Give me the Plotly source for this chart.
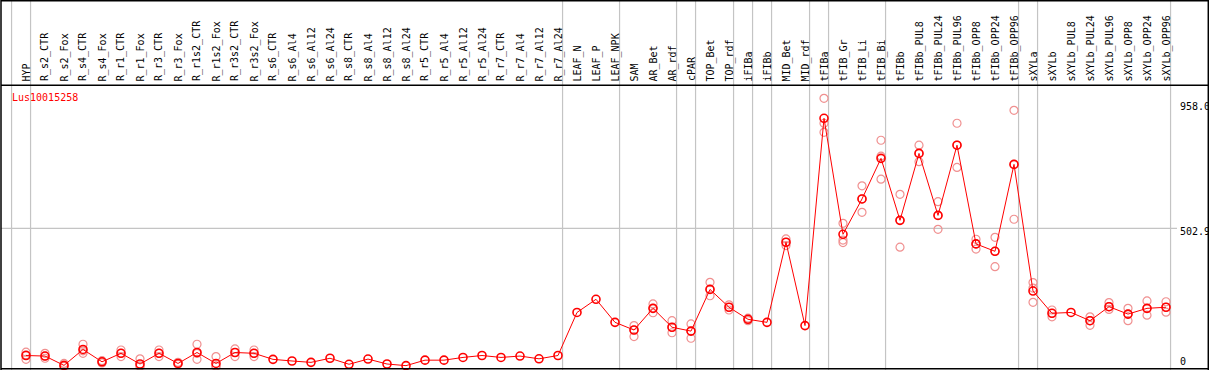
import plotly.graph_objects as go

W, H = 1209, 370

categories = [
    "HYP", "R_s2_CTR", "R_s2_Fox", "R_s4_CTR", "R_s4_Fox", "R_r1_CTR", "R_r1_Fox",
    "R_r3_CTR", "R_r3_Fox", "R_r1s2_CTR", "R_r1s2_Fox", "R_r3s2_CTR", "R_r3s2_Fox",
    "R_s6_CTR", "R_s6_Al4", "R_s6_Al12", "R_s6_Al24", "R_s8_CTR", "R_s8_Al4",
    "R_s8_Al12", "R_s8_Al24", "R_r5_CTR", "R_r5_Al4", "R_r5_Al12", "R_r5_Al24",
    "R_r7_CTR", "R_r7_Al4", "R_r7_Al12", "R_r7_Al24", "LEAF_N", "LEAF_P", "LEAF_NPK",
    "SAM", "AR_Bet", "AR_rdf", "cPAR", "TOP_Bet", "TOP_rdf", "iFIBa", "iFIBb",
    "MID_Bet", "MID_rdf", "tFIBa", "tFIB_Gr", "tFIB_Li", "tFIB_Bi", "tFIBb",
    "tFIBb_PUL8", "tFIBb_PUL24", "tFIBb_PUL96", "tFIBb_OPP8", "tFIBb_OPP24",
    "tFIBb_OPP96", "sXYLa", "sXYLb", "sXYLb_PUL8", "sXYLb_PUL24", "sXYLb_PUL96",
    "sXYLb_OPP8", "sXYLb_OPP24", "sXYLb_OPP96",
]

means = [
    39, 37, 3, 61, 16, 47, 8, 47, 10, 50, 10, 50, 47,
    25, 19, 14, 29, 7, 26, 8, 2, 22, 22, 32, 39, 32, 37, 27, 39,
    196, 244, 160, 132, 211, 142, 128, 280, 215, 171, 160, 452, 148,
    904, 481, 610, 758, 532, 776, 550, 806, 446, 419, 736,
    274, 193, 196, 166, 217, 190, 211, 215,
]

replicates = [
    [51, 41, 25], [47, 37, 29], [10, 0, 0], [80, 56, 47], [20, 16, 12],
    [59, 47, 35], [27, 0, 0], [59, 47, 35], [14, 10, 7], [80, 47, 25],
    [35, 0, 0], [63, 50, 35], [59, 47, 35],
    [], [], [], [], [], [], [], [], [], [], [], [], [], [], [], [],
    [], [], [],
    [148, 132, 108], [227, 211, 195], [166, 142, 122], [154, 128, 102],
    [306, 280, 257], [224, 215, 205], [175, 171, 166], [],
    [464, 452, 440], [],
    [977, 886, 853], [521, 460, 451], [658, 610, 561], [824, 766, 682],
    [627, 532, 434], [806, 776, 746], [600, 550, 499], [886, 806, 725],
    [463, 446, 427], [470, 419, 363], [933, 736, 536],
    [305, 285, 233], [205, 193, 180], [], [180, 166, 149], [232, 217, 207],
    [211, 190, 166], [238, 211, 186], [235, 215, 197],
]

gene_name = "Lus10015258"
tick_values = [958.0, 502.9, 0]
tick_labels = ["958.0", "502.9", "0"]
# group separators drawn after these categories (None = before first)
group_ends = [None, "HYP", "R_r7_Al24", "LEAF_NPK", "AR_rdf", "cPAR", "TOP_rdf",
              "iFIBa", "iFIBb", "MID_rdf", "tFIBa", "tFIB_Bi", "tFIBb_OPP96",
              "sXYLa", "sXYLb_OPP96"]

# ---- geometry (pixels) ----
X0_PX, STEP_PX = 26.0, 19.0
Y0_PX, PX_PER_UNIT = 366.2, 0.2742
x_range = [-X0_PX / STEP_PX, (W - X0_PX) / STEP_PX]
y_range = [(Y0_PX - H) / PX_PER_UNIT, Y0_PX / PX_PER_UNIT]


def px(xp):
    return xp / W


def py(yp):
    return 1 - yp / H


xs = list(range(len(categories)))
rep_x, rep_y = [], []
for i, reps in enumerate(replicates):
    for v in reps:
        rep_x.append(i)
        rep_y.append(v)

fig = go.Figure()
fig.add_trace(go.Scatter(
    x=rep_x, y=rep_y, mode="markers",
    marker=dict(symbol="circle-open", size=8, color="#F09090",
                line=dict(width=1.2, color="#F09090")),
    hoverinfo="skip", showlegend=False,
))
fig.add_trace(go.Scatter(
    x=xs, y=means, mode="lines+markers",
    line=dict(color="#FF0000", width=1),
    marker=dict(symbol="circle-open", size=8, color="#FF0000",
                line=dict(width=1.6, color="#FF0000")),
    hoverinfo="skip", showlegend=False,
))

shapes = []
grey = "#C4C4C4"
for g in group_ends:
    idx = -1 if g is None else categories.index(g)
    xv = idx + 0.24
    shapes.append(dict(type="line", xref="x", yref="paper", x0=xv, x1=xv,
                       y0=0, y1=1, line=dict(color=grey, width=1.2), layer="below"))
# horizontal mid grid line
shapes.append(dict(type="line", xref="paper", yref="y", x0=px(1), x1=px(1177),
                   y0=tick_values[1], y1=tick_values[1],
                   line=dict(color=grey, width=1.2), layer="below"))
# black frame and header separator
blk = dict(color="black", width=1.5)
shapes += [
    dict(type="line", xref="paper", yref="paper", x0=px(1), x1=px(1), y0=0, y1=1, line=blk),
    dict(type="line", xref="paper", yref="paper", x0=px(1208.3), x1=px(1208.3), y0=0, y1=1, line=blk),
    dict(type="line", xref="paper", yref="paper", x0=px(1), x1=px(1209), y0=py(0.8), y1=py(0.8), line=blk),
    dict(type="line", xref="paper", yref="paper", x0=px(1), x1=px(1209), y0=py(85.3), y1=py(85.3), line=blk),
    dict(type="line", xref="paper", yref="paper", x0=px(1), x1=px(1209), y0=py(368.8), y1=py(368.8), line=blk),
]

mono = "DejaVu Sans Mono"
annotations = []
for i, c in enumerate(categories):
    annotations.append(dict(x=i, y=py(83.5), xref="x", yref="paper", text=c,
                            textangle=-90, showarrow=False, xanchor="center",
                            yanchor="bottom", font=dict(family=mono, size=10, color="black")))
annotations.append(dict(x=px(10), y=py(97.5), xref="paper", yref="paper", text=gene_name,
                        showarrow=False, xanchor="left", yanchor="middle",
                        font=dict(family=mono, size=10, color="#FF0000")))
label_y_px = [106.7, 231.7, 361.7]
for t, yy in zip(tick_labels, label_y_px):
    annotations.append(dict(x=px(1177.5), y=py(yy), xref="paper", yref="paper", text=t,
                            showarrow=False, xanchor="left", yanchor="middle",
                            font=dict(family=mono, size=10, color="black")))

fig.update_layout(
    width=W, height=H,
    margin=dict(l=0, r=0, t=0, b=0, pad=0),
    paper_bgcolor="white", plot_bgcolor="white",
    xaxis=dict(range=x_range, visible=False, showgrid=False, zeroline=False, fixedrange=True),
    yaxis=dict(range=y_range, visible=False, showgrid=False, zeroline=False, fixedrange=True),
    shapes=shapes, annotations=annotations, showlegend=False,
)

fig.write_html(
    "out.html",
    config={"displayModeBar": False, "staticPlot": True},
    post_script="document.body.style.margin='0';document.body.style.padding='0';"
                "document.body.style.overflow='hidden';",
)
